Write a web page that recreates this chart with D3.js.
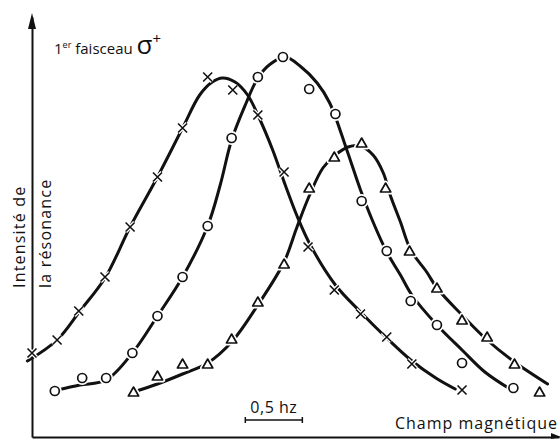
<!DOCTYPE html>
<html>
<head>
<meta charset="utf-8">
<script src="https://cdn.jsdelivr.net/npm/d3@7"></script>
<style>
  body { margin: 0; background: #fff; }
  text { font-family: "Open Sans", sans-serif; fill: #111; }
</style>
</head>
<body>
<svg id="chart"></svg>
<script>
// field in hz (origin at the y axis), intensity in arbitrary units
const crossPoints = [[0,8.4],[0.22,9.7],[0.41,12.6],[0.64,16.0],[0.86,21.0],[1.10,26.0],[1.32,30.9],[1.54,36.0],[1.76,34.7],[1.98,32.2],[2.21,26.5],[2.42,19.0],[2.65,14.7],[2.88,12.3],[3.11,10.0],[3.33,7.3],[3.77,4.7]];
const crossCurve = [[-0.04,7.6],[0.22,9.7],[0.42,12.6],[0.64,15.9],[0.86,21.0],[1.10,26.0],[1.32,30.9],[1.47,34.2],[1.58,35.5],[1.67,35.9],[1.78,35.5],[1.89,34.2],[2.00,31.7],[2.11,28.7],[2.22,25.2],[2.32,22.2],[2.44,19.2],[2.66,15.2],[2.88,12.5],[3.10,10.0],[3.32,7.7],[3.54,5.9],[3.71,4.8]];

const circlePoints = [[0.20,4.6],[0.44,5.9],[0.65,5.9],[0.88,8.4],[1.10,12.1],[1.32,16.0],[1.54,21.1],[1.75,29.9],[1.98,36.0],[2.20,38.0],[2.43,34.8],[2.66,32.3],[2.89,23.6],[3.11,18.6],[3.32,13.6],[3.55,11.2],[3.77,7.4],[4.22,4.9]];
const circleCurve = [[0.22,4.7],[0.42,5.2],[0.65,5.7],[0.88,8.4],[1.10,12.1],[1.32,16.0],[1.54,21.1],[1.65,25.2],[1.75,29.7],[1.87,33.2],[1.98,35.9],[2.09,37.3],[2.22,38.0],[2.35,37.1],[2.50,35.4],[2.61,33.4],[2.76,28.7],[2.88,24.7],[2.99,21.5],[3.11,18.5],[3.23,16.2],[3.33,14.2],[3.55,11.2],[3.77,8.7],[3.97,6.5],[4.19,4.8]];

const trianglePoints = [[0.89,4.4],[1.10,6.0],[1.32,7.2],[1.54,7.2],[1.75,9.7],[1.98,13.4],[2.21,17.2],[2.43,24.8],[2.65,27.9],[2.89,29.3],[3.10,24.8],[3.31,18.5],[3.55,14.8],[3.77,11.6],[3.99,9.9],[4.23,7.2],[4.45,4.4]];
const triangleCurve = [[0.89,4.5],[1.10,5.3],[1.32,6.3],[1.54,7.4],[1.75,9.5],[1.98,13.2],[2.21,17.5],[2.32,20.9],[2.43,24.1],[2.55,26.9],[2.66,28.2],[2.77,29.0],[2.88,29.1],[2.99,28.2],[3.08,26.4],[3.14,24.2],[3.23,21.5],[3.32,18.7],[3.46,16.5],[3.55,14.9],[3.77,12.2],[3.99,9.7],[4.23,7.5],[4.52,5.3]];

const scaleBar = [1.87, 2.37];   // 0,5 hz
const scaleBarLabel = '0,5 hz';
const xLabel = 'Champ magnétique';
const yLabel = ['Intensité de', 'la résonance'];

const width = 560;
const height = 440;

const svg = d3.select('#chart')
  .attr('width', width)
  .attr('height', height);

const x = d3.scaleLinear().domain([0, 4.62]).range([32, 559]);
const y = d3.scaleLinear().domain([0, 42]).range([437, 17]);

// axes, no ticks
svg.append('g')
  .attr('transform', `translate(0,${y(0)})`)
  .call(d3.axisBottom(x).ticks(0).tickSizeOuter(0))
  .call(g => g.select('.domain').attr('stroke', '#111').attr('stroke-width', 2));

svg.append('g')
  .attr('transform', `translate(${x(0)},0)`)
  .call(d3.axisLeft(y).ticks(0).tickSizeOuter(0))
  .call(g => g.select('.domain').attr('stroke', '#111').attr('stroke-width', 2));

// arrow heads
svg.append('path')
  .attr('d', `M${x(0)},${y(42) - 4}L${x(0) - 4},${y(42) + 12}L${x(0) + 4},${y(42) + 12}Z`)
  .attr('fill', '#111');
svg.append('path')
  .attr('d', `M${x(4.62) + 2},${y(0)}L${x(4.62) - 8},${y(0) - 4}L${x(4.62) - 8},${y(0) + 2}Z`)
  .attr('fill', '#111');

const line = d3.line()
  .x(d => x(d[0]))
  .y(d => y(d[1]))
  .curve(d3.curveCatmullRom.alpha(0.5));

[crossCurve, circleCurve, triangleCurve].forEach(c => {
  svg.append('path')
    .attr('d', line(c))
    .attr('fill', 'none')
    .attr('stroke', '#111')
    .attr('stroke-width', 3)
    .attr('stroke-linecap', 'round');
});

// markers: drawn twice, white halo first so the line breaks at each one
const crossPath = 'M-4.5,-4.5L4.5,4.5M-4.5,4.5L4.5,-4.5';
const triPath = d3.symbol(d3.symbolTriangle, 46)();

['#fff', '#111'].forEach((col, i) => {
  const sw = i === 0 ? 5 : 1.7;
  svg.append('g').selectAll('path')
    .data(crossPoints)
    .enter()
    .append('path')
    .attr('transform', d => `translate(${x(d[0])},${y(d[1])})`)
    .attr('d', crossPath)
    .attr('stroke', col)
    .attr('stroke-width', i === 0 ? 4 : 1.6)
    .attr('fill', 'none');

  svg.append('g').selectAll('circle')
    .data(circlePoints)
    .enter()
    .append('circle')
    .attr('cx', d => x(d[0]))
    .attr('cy', d => y(d[1]))
    .attr('r', 4.5)
    .attr('fill', '#fff')
    .attr('stroke', col)
    .attr('stroke-width', sw);

  svg.append('g').selectAll('path')
    .data(trianglePoints)
    .enter()
    .append('path')
    .attr('transform', d => `translate(${x(d[0])},${y(d[1])})`)
    .attr('d', triPath)
    .attr('fill', '#fff')
    .attr('stroke', col)
    .attr('stroke-width', sw)
    .attr('stroke-linejoin', 'round');
});

// scale bar
const barY = 420;
svg.append('path')
  .attr('d', `M${x(scaleBar[0])},${barY}H${x(scaleBar[1])}M${x(scaleBar[0])},${barY - 3}V${barY + 3}M${x(scaleBar[1])},${barY - 3}V${barY + 3}`)
  .attr('stroke', '#111')
  .attr('stroke-width', 1.5)
  .attr('fill', 'none');
svg.append('text')
  .attr('x', (x(scaleBar[0]) + x(scaleBar[1])) / 2)
  .attr('y', 413)
  .attr('text-anchor', 'middle')
  .style('font-size', '16px')
  .style('letter-spacing', '0.5px')
  .text(scaleBarLabel);

svg.append('text')
  .attr('x', 558)
  .attr('y', 429)
  .attr('text-anchor', 'end')
  .style('font-size', '16px')
  .style('letter-spacing', '1px')
  .text(xLabel);

// y label, two rotated lines either side of the axis
svg.append('text')
  .attr('transform', 'translate(25,288) rotate(-90)')
  .style('font-size', '16px')
  .style('letter-spacing', '1.2px')
  .text(yLabel[0]);
svg.append('text')
  .attr('transform', 'translate(51,288) rotate(-90)')
  .style('font-size', '16px')
  .style('letter-spacing', '1.2px')
  .text(yLabel[1]);

// title
const title = svg.append('text')
  .attr('x', 54)
  .attr('y', 54)
  .style('font-size', '15px');
title.append('tspan').text('1');
title.append('tspan').attr('dy', -6).style('font-size', '9px').text('er');
title.append('tspan').attr('dy', 6).text(' faisceau ');
title.append('tspan').style('font-size', '26px').text('σ');
title.append('tspan').attr('dy', -10).style('font-size', '15px').text('+');
</script>
</body>
</html>
